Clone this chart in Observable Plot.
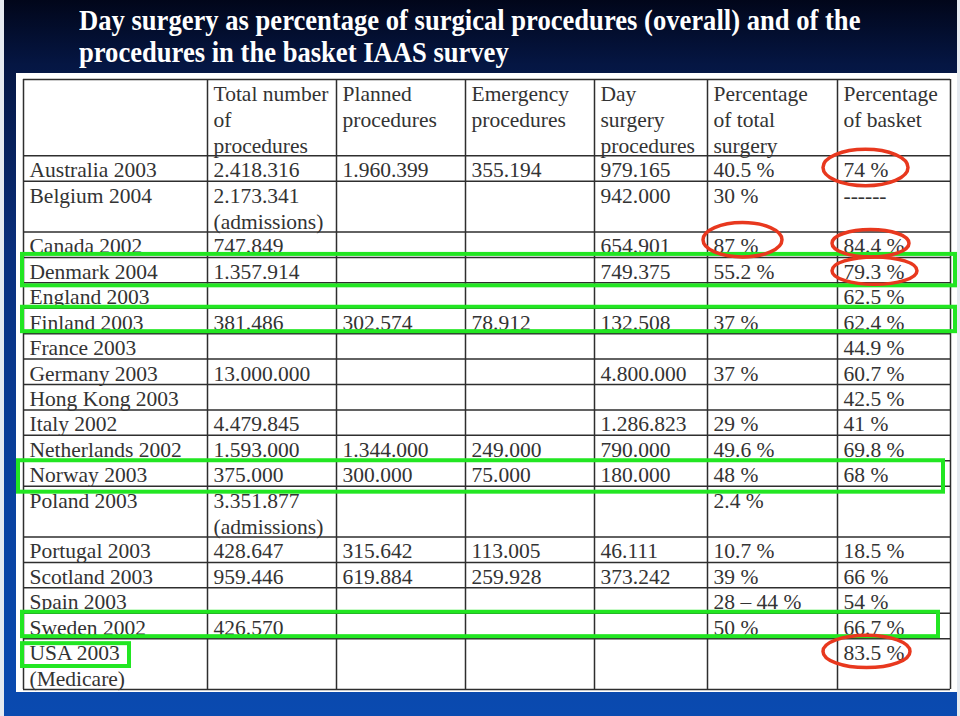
<!DOCTYPE html>
<html>
<head>
<meta charset="utf-8">
<script src="https://cdn.jsdelivr.net/npm/d3@7"></script>
<script src="https://cdn.jsdelivr.net/npm/@observablehq/plot@0.6"></script>
<style>
  html, body { margin: 0; padding: 0; background: #e6eaf0; }
  #slide {
    position: absolute; left: 4px; top: 0; width: 953px; height: 716px;
    background: linear-gradient(to bottom, #01061a 0%, #051643 9%, #0a2f7c 35%, #0a42a0 70%, #0a4ab0 100%);
    overflow: hidden;
  }
  #title {
    position: absolute; left: 75px; top: 5px;
    font-family: "Liberation Serif", "Times New Roman", serif;
    font-weight: bold; font-size: 26.6px; line-height: 29px; color: #ffffff;
    white-space: nowrap; margin: 0;
    transform: scale(1, 1.1); transform-origin: 0 0;
  }
  #panel {
    position: absolute; left: 12px; top: 73px; width: 941px; height: 619px; background: #ffffff;
  }
  #panel svg { display: block; }
</style>
</head>
<body>
<div id="slide">
  <h1 id="title">Day surgery as percentage of surgical procedures (overall) and of the<br>procedures in the basket IAAS survey</h1>
  <div id="panel"></div>
</div>
<script>
// ---------- data ----------
const columns = [
  "",
  "Total number\nof\nprocedures",
  "Planned\nprocedures",
  "Emergency\nprocedures",
  "Day\nsurgery\nprocedures",
  "Percentage\nof total\nsurgery",
  "Percentage\nof basket"
];
const countries = [
  "Australia 2003", "Belgium 2004", "Canada 2002", "Denmark 2004", "England 2003",
  "Finland 2003", "France 2003", "Germany 2003", "Hong Kong 2003", "Italy 2002",
  "Netherlands 2002", "Norway 2003", "Poland 2003", "Portugal 2003", "Scotland 2003",
  "Spain 2003", "Sweden 2002", "USA 2003\n(Medicare)"
];
const totalProcedures = [
  "2.418.316", "2.173.341\n(admissions)", "747.849", "1.357.914", "",
  "381.486", "", "13.000.000", "", "4.479.845",
  "1.593.000", "375.000", "3.351.877\n(admissions)", "428.647", "959.446",
  "", "426.570", ""
];
const plannedProcedures = [
  "1.960.399", "", "", "", "",
  "302.574", "", "", "", "",
  "1.344.000", "300.000", "", "315.642", "619.884",
  "", "", ""
];
const emergencyProcedures = [
  "355.194", "", "", "", "",
  "78.912", "", "", "", "",
  "249.000", "75.000", "", "113.005", "259.928",
  "", "", ""
];
const daySurgeryProcedures = [
  "979.165", "942.000", "654.901", "749.375", "",
  "132.508", "", "4.800.000", "", "1.286.823",
  "790.000", "180.000", "", "46.111", "373.242",
  "", "", ""
];
const pctTotalSurgery = [
  "40.5 %", "30 %", "87 %", "55.2 %", "",
  "37 %", "", "37 %", "", "29 %",
  "49.6 %", "48 %", "2.4 %", "10.7 %", "39 %",
  "28 \u2013 44 %", "50 %", ""
];
const pctBasket = [
  "74 %", "------", "84.4 %", "79.3 %", "62.5 %",
  "62.4 %", "44.9 %", "60.7 %", "42.5 %", "41 %",
  "69.8 %", "68 %", "", "18.5 %", "66 %",
  "54 %", "66.7 %", "83.5 %"
];
// annotations drawn on the slide
const highlightedRows = ["Denmark 2004", "Finland 2003", "Norway 2003", "Sweden 2002", "USA 2003\n(Medicare)"];
const circledCells = [
  ["Australia 2003", 6], ["Canada 2002", 5], ["Canada 2002", 6], ["Denmark 2004", 6], ["USA 2003\n(Medicare)", 6]
];

// ---------- layout (sizes / styles, not data) ----------
const colWidths = [184, 129, 129, 129, 113, 130, 113];   // px-like units
const lineUnit = 610 / 24;                                // px per text line
const cellPad = 6;
// per-highlight extents: [x1 offset, right end (units), top px, bottom px]
const highlightFit = [
  [-1, 932, -3, 3], [-1, 932, -1, -2], [-5, 920, 0, 6], [-1, 915, -1, -2], [-1, 106, 5, -23]
];
// per-ellipse fit relative to cell left / first line: [left px, right px, top px, bottom px]
const ellipseFit = [
  [-14, 71, -6, 5], [-4, 75, -9, 0], [-5, 72, -2, 0], [-5, 80, 0, 2], [-14, 73, -3, 4]
];

// ---------- build table ----------
const body = [countries, totalProcedures, plannedProcedures, emergencyProcedures,
              daySurgeryProcedures, pctTotalSurgery, pctBasket];
const nLines = s => s === "" ? 1 : s.split("\n").length;
const rows = [{key: "header", cells: columns}].concat(countries.map((c, i) => ({key: c, cells: body.map(col => col[i])})));
let acc = 0;
rows.forEach(r => { r.lines = d3.max(r.cells, nLines); r.top = acc; acc += r.lines; r.bottom = acc; });
const totalLines = acc;
const colEdges = [0];
colWidths.forEach(w => colEdges.push(colEdges[colEdges.length - 1] + w));
const totalW = colEdges[colEdges.length - 1];

const cells = [];
rows.forEach(r => r.cells.forEach((t, j) => { if (t) cells.push({x: colEdges[j] + cellPad, y: r.top, text: t}); }));
const hLines = [0].concat(rows.map(r => r.bottom));
const rowByKey = new Map(rows.map(r => [r.key, r]));

const greens = highlightedRows.map((k, i) => {
  const r = rowByKey.get(k), f = highlightFit[i];
  return {x1: f[0], x2: f[1], y1: r.top + f[2] / lineUnit, y2: r.bottom + f[3] / lineUnit};
});
const reds = circledCells.map(([k, j], i) => {
  const r = rowByKey.get(k), f = ellipseFit[i];
  return {x1: colEdges[j] + f[0], x2: colEdges[j] + f[1], y1: r.top + f[2] / lineUnit, y2: r.top + 1 + f[3] / lineUnit};
});

const font = "Liberation Serif, Times New Roman, serif";
const chart = Plot.plot({
  width: 941,
  height: 619,
  margin: 0,
  x: {type: "linear", domain: [0, totalW], range: [7, 7 + totalW], axis: null},
  y: {type: "linear", domain: [0, totalLines], range: [6, 616], axis: null},
  style: {background: "transparent", overflow: "visible"},
  marks: [
    Plot.ruleY(hLines, {y: d => d, x1: 0, x2: totalW, stroke: "#2e2e2e", strokeWidth: 1.5}),
    Plot.ruleX(colEdges, {x: d => d, y1: 0, y2: totalLines, stroke: "#2e2e2e", strokeWidth: 1.5}),
    Plot.text(cells, {
      x: "x", y: "y", text: "text", textAnchor: "start", lineAnchor: "top",
      lineHeight: 1.21, dy: 3, fontSize: 21.5, fontFamily: font, fill: "#333333"
    }),
    Plot.rect(greens, {x1: "x1", x2: "x2", y1: "y1", y2: "y2", fill: "none", stroke: "#22e622", strokeWidth: 4}),
    Plot.rect(reds, {x1: "x1", x2: "x2", y1: "y1", y2: "y2", fill: "none", stroke: "#e8381e", strokeWidth: 3.5, rx: 300, ry: 300})
  ]
});
document.getElementById("panel").appendChild(chart);
</script>
</body>
</html>
